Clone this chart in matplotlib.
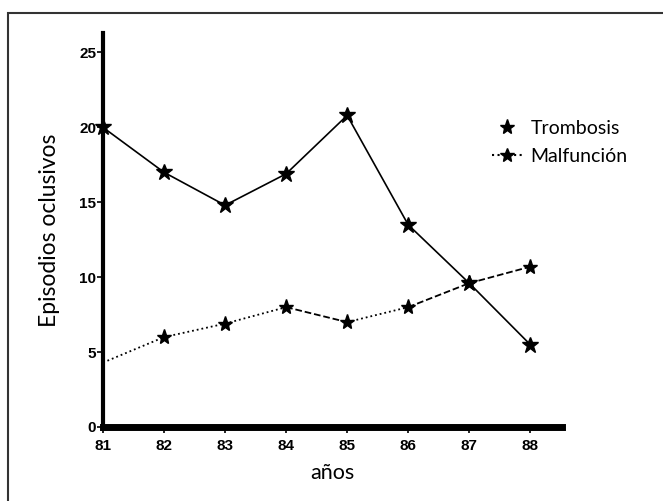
import matplotlib.pyplot as plt
from matplotlib.patches import Rectangle
from matplotlib.lines import Line2D

# datos
years = [81, 82, 83, 84, 85, 86, 87, 88]
tick_labels = ["81", "82", "83", "84", "85", "86", "87", "88"]
trombosis = [20.0, 17.0, 14.8, 16.9, 20.8, 13.5, 9.6, 5.5]
malf_years = [81, 82, 83, 84, 85, 86, 87, 88]
malfuncion = [4.3, 6.0, 6.9, 8.0, 7.0, 8.0, 9.6, 10.7]
malf_styles = [":", ":", ":", "--", ":", "--", "--"]  # estilo de cada tramo
y_ticks = [0, 5, 10, 15, 20, 25]

plt.rcParams["font.family"] = ["Lato", "DejaVu Sans"]


def plot_chart():
    fig = plt.figure(figsize=(6.63, 5.01), dpi=100)
    ax = fig.add_axes([103 / 663, 1 - 427 / 501, (562 - 103) / 663, (427 - 33) / 501])

    # marco exterior
    fig.patches.append(Rectangle((8 / 663, -0.1), 1.2, 1.1 - 13 / 501,
                                 transform=fig.transFigure, fill=False,
                                 edgecolor="#333333", linewidth=1.5))

    # trombosis
    ax.plot(years, trombosis, color="black", linewidth=1.2, marker="*",
            markersize=12, clip_on=False, zorder=3)

    # malfunción, cada tramo con su estilo
    for i, ls in enumerate(malf_styles):
        ax.plot(malf_years[i:i + 2], malfuncion[i:i + 2], color="black",
                linestyle=ls, linewidth=1.3, clip_on=False)
    ax.plot(malf_years[1:], malfuncion[1:], linestyle="none", marker="*",
            color="black", markersize=11, zorder=3)

    ax.set_xlim(81, 88.52)
    ax.set_ylim(0, 26.3)
    ax.set_xticks(years)
    ax.set_xticklabels(tick_labels)
    ax.set_yticks(y_ticks)

    for s in ["top", "right"]:
        ax.spines[s].set_visible(False)
    ax.spines["left"].set_linewidth(3)
    ax.spines["bottom"].set_linewidth(5)

    ax.tick_params(axis="both", direction="out", length=4, width=1.2,
                   labelsize=11, labelfontfamily="Liberation Sans")
    ax.tick_params(axis="y", pad=1)
    ax.tick_params(axis="x", pad=5)

    ax.set_ylabel("Episodios oclusivos", fontsize=16.5, labelpad=14)
    ax.set_xlabel("años", fontsize=15.5, labelpad=7)

    handles = [
        Line2D([], [], color="black", linestyle="none", marker="*", markersize=11),
        Line2D([], [], color="black", linestyle=":", marker="*", markersize=10),
    ]
    ax.legend(handles, ["Trombosis", "Malfunción"], loc="upper left",
              bbox_to_anchor=(0.83, 0.80), frameon=False, fontsize=14,
              handlelength=1.6, handletextpad=0.4, labelspacing=0.6,
              borderaxespad=0)

    # negrita en las etiquetas de los ejes
    fig.canvas.draw()
    plt.setp(ax.get_xticklabels() + ax.get_yticklabels(), fontweight="bold")
    return fig


def main():
    fig = plot_chart()
    fig.savefig("out.png", dpi=100)
    plt.close(fig)


if __name__ == "__main__":
    main()
